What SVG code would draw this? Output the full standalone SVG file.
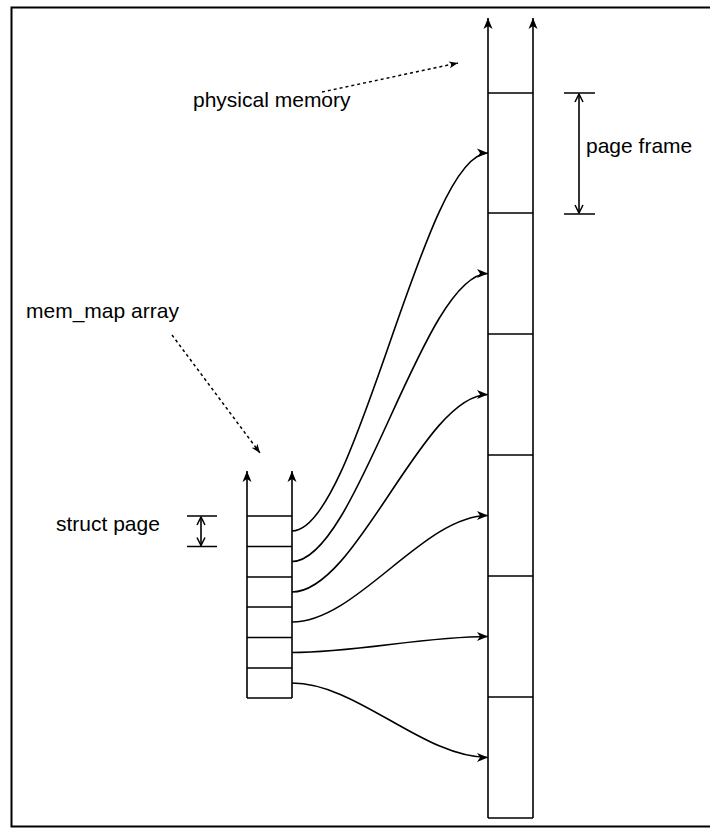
<svg xmlns="http://www.w3.org/2000/svg" width="710" height="828" viewBox="0 0 710 828">
<style>
.ln{fill:none;stroke:#000;stroke-width:1.6}
.dot{fill:none;stroke:#000;stroke-width:1.5;stroke-dasharray:3 3}
.lbl{font-family:"Liberation Sans",Arial,Helvetica,sans-serif;font-size:21px;fill:#000}
</style>
<defs>
<marker id="ah" markerUnits="userSpaceOnUse" markerWidth="12" markerHeight="10" viewBox="0 0 12 10" refX="11" refY="5" orient="auto">
<path d="M0,0.5 L11,5 L0,9.5 L3,5 Z" fill="#000"/>
</marker>
<marker id="ahs" markerUnits="userSpaceOnUse" markerWidth="10" markerHeight="8" viewBox="0 0 10 8" refX="9" refY="4" orient="auto">
<path d="M0,0.5 L9,4 L0,7.5 L2.5,4 Z" fill="#000"/>
</marker>
<marker id="op" markerUnits="userSpaceOnUse" markerWidth="10" markerHeight="10" viewBox="0 0 10 10" refX="9" refY="5" orient="auto-start-reverse">
<path d="M1,1 L9,5 L1,9" fill="none" stroke="#000" stroke-width="1.5"/>
</marker>
</defs>
<rect x="11.5" y="7.5" width="720" height="819" fill="none" stroke="#000" stroke-width="2"/>
<g id="physical-memory">
<path class="ln" d="M488,818 L488,18" marker-end="url(#ah)"/>
<path class="ln" d="M533,818 L533,18" marker-end="url(#ah)"/>
<path class="ln" d="M488,93 H533 M488,213 H533 M488,334 H533 M488,455 H533 M488,576 H533 M488,697 H533 M488,818 H533"/>
</g>
<g id="mem-map">
<path class="ln" d="M247,698 L247,471" marker-end="url(#ah)"/>
<path class="ln" d="M292,698 L292,471" marker-end="url(#ah)"/>
<path class="ln" d="M247,516 H292 M247,546.5 H292 M247,577 H292 M247,607 H292 M247,637.5 H292 M247,668 H292 M247,698 H292"/>
</g>
<g id="page-frame-dim">
<path class="ln" d="M564,93 H595 M564,214 H595"/>
<path class="ln" d="M579,94 V213" marker-start="url(#op)" marker-end="url(#op)"/>
<text class="lbl" x="586" y="153">page frame</text>
</g>
<g id="struct-page-dim">
<path class="ln" d="M187,516 H217 M187,546.5 H217"/>
<path class="ln" d="M201,517 V545.5" marker-start="url(#op)" marker-end="url(#op)"/>
<text class="lbl" x="56" y="531">struct page</text>
</g>
<g id="label-physical">
<text class="lbl" x="193" y="107">physical memory</text>
</g>
<g id="label-memmap">
<text class="lbl" x="26" y="318">mem_map array</text>
</g>
<g id="connectors">
<path class="dot" d="M322,92 L458,63" marker-end="url(#ahs)"/>
<path class="dot" d="M172,335 L260,453" marker-end="url(#ahs)"/>
<path class="ln" d="M292,531 C357,531 423,153 488,153" marker-end="url(#ah)"/>
<path class="ln" d="M292,561.5 C357,561.5 423,273.5 488,273.5" marker-end="url(#ah)"/>
<path class="ln" d="M292,592 C357,592 423,394.5 488,394.5" marker-end="url(#ah)"/>
<path class="ln" d="M292,622 C357,622 423,515.5 488,515.5" marker-end="url(#ah)"/>
<path class="ln" d="M292,652.5 C357,652.5 423,636.5 488,636.5" marker-end="url(#ah)"/>
<path class="ln" d="M292,683 C357,683 423,757.5 488,757.5" marker-end="url(#ah)"/>
</g>
</svg>
